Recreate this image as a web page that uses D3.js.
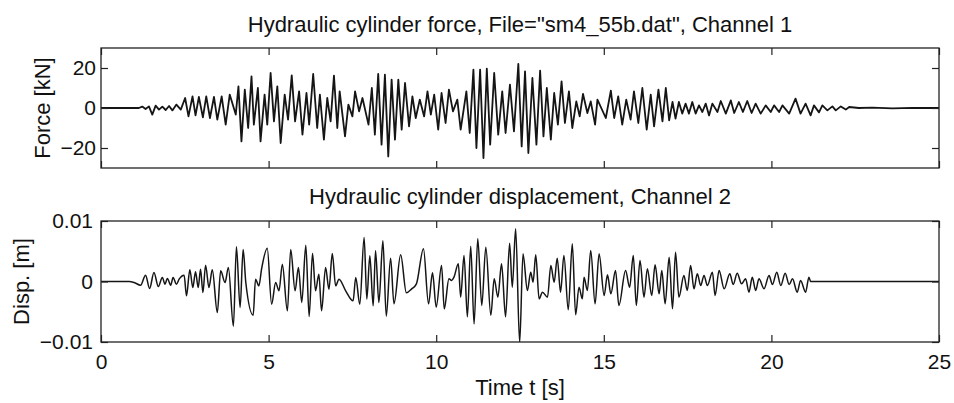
<!DOCTYPE html>
<html><head><meta charset="utf-8">
<script src="https://cdn.jsdelivr.net/npm/d3@7"></script>
<style>
body{margin:0;background:#fff}
svg{display:block}
text{font-family:"Liberation Sans",Arial,Helvetica,sans-serif;fill:#111}
</style>
</head><body><svg id="chart" width="954" height="403"></svg>
<script>
// ---- tick labels / titles ----
const xTicks = [0, 5, 10, 15, 20, 25];
const forceTicks = [-20, 0, 20];
const dispTicks = [-0.01, 0, 0.01];
const forceTitle = 'Hydraulic cylinder force, File="sm4_55b.dat", Channel 1';
const dispTitle = 'Hydraulic cylinder displacement, Channel 2';
const forceLabel = 'Force [kN]';
const dispLabel = 'Disp. [m]';
const timeLabel = 'Time t [s]';

// ---- series: [time s, force kN] (peaks/troughs) ----
const forceSeries = [[0,0],[1.13,0],[1.23,0.7],[1.33,-0.5],[1.43,0.8],[1.53,-3.3],[1.63,1.2],[1.73,-0.8],[1.83,0.7],[1.93,-1.0],[2.03,1.0],[2.13,-1.2],[2.25,1.7],[2.38,-0.8],[2.51,5.0],[2.61,-4.2],[2.73,5.8],[2.82,-3.7],[2.92,5.5],[3.04,-4.7],[3.14,5.8],[3.25,-5.0],[3.37,5.5],[3.47,-5.8],[3.60,5.8],[3.72,-8.3],[3.84,6.7],[4.02,-3.3],[4.10,10.8],[4.19,-16.7],[4.29,9.2],[4.39,-10],[4.49,15.8],[4.56,-8.3],[4.68,10],[4.76,-16.7],[4.88,6.7],[4.96,-8.3],[5.06,17.5],[5.16,-6.7],[5.26,10.8],[5.36,-17.5],[5.48,6.7],[5.58,-5.8],[5.69,16.3],[5.79,-6.7],[5.91,8.3],[6.01,-13.3],[6.13,7.5],[6.21,-8.3],[6.33,17],[6.45,-10],[6.53,6.7],[6.65,-15.8],[6.75,5],[6.85,-6.7],[6.95,16.2],[7.05,-10],[7.12,8.3],[7.28,-14.2],[7.38,1.7],[7.50,-4.2],[7.58,8.3],[7.70,-1.7],[7.80,5],[7.98,-8.3],[8.08,10],[8.17,-13.3],[8.27,17],[8.37,-18.3],[8.47,16.7],[8.57,-24.2],[8.67,14.2],[8.77,-15.8],[8.87,14.2],[8.97,-10.8],[9.07,12.5],[9.19,-9.2],[9.29,5.8],[9.39,-5],[9.51,4.2],[9.64,-4.2],[9.74,8.3],[9.84,-3.3],[9.94,6.7],[10.06,-10.8],[10.16,7.5],[10.28,-7.5],[10.38,9.2],[10.50,-1.7],[10.63,4.2],[10.73,-10.8],[10.90,8.3],[11.00,-12.5],[11.11,19.2],[11.20,-20],[11.31,19.2],[11.41,-25],[11.51,19.7],[11.61,-18.3],[11.73,17.5],[11.85,-13.3],[11.97,8.3],[12.07,-12.5],[12.20,11.7],[12.32,-11.7],[12.45,22],[12.55,-19.2],[12.65,18.3],[12.75,-22.5],[12.87,15],[12.99,-18.3],[13.10,18.7],[13.20,-14.2],[13.30,10],[13.42,-15.8],[13.52,7.5],[13.63,-8.3],[13.74,13.3],[13.84,-7.5],[13.96,8.3],[14.06,-10],[14.18,3.3],[14.28,-4.2],[14.38,7],[14.51,-2.5],[14.61,3.3],[14.74,-8.3],[14.81,4.2],[15.06,-5],[15.21,8.7],[15.31,-5],[15.43,5.8],[15.55,-8.3],[15.67,4.2],[15.80,-5.8],[15.90,8.3],[16.03,-7.5],[16.15,10],[16.28,-10.8],[16.40,6.7],[16.50,-9.2],[16.63,9.2],[16.75,-6.7],[16.85,10],[16.95,-6.2],[17.05,3],[17.14,-5.3],[17.24,3],[17.34,-2.8],[17.44,2.2],[17.54,-2.8],[17.64,3],[17.74,-2.8],[17.84,1.3],[17.94,-2],[18.04,2.2],[18.14,-3.7],[18.24,2.2],[18.39,-2],[18.49,3.5],[18.64,-2.8],[18.79,3.8],[18.89,-2.5],[19.03,3],[19.15,-2],[19.28,3.5],[19.41,-2.5],[19.53,2.2],[19.68,-2.8],[19.83,1.3],[19.98,-2],[20.08,1.3],[20.23,-2],[20.33,1.3],[20.53,-2.8],[20.72,4.7],[20.87,-2.8],[21.02,2.2],[21.17,-3.7],[21.27,1.3],[21.42,-2.2],[21.52,1.3],[21.67,-1.2],[21.82,0.8],[21.92,-1.2],[22.07,0.8],[22.22,-0.8],[22.32,0.5],[22.61,0],[23.01,0.2],[23.61,-0.2],[24.21,0.1],[25,0]];

// ---- series: [time s, displacement m] ----
const dispSeries = [[0,0],[0.84,0],[0.99,-0.00017],[1.18,-0.00061],[1.33,0.00105],[1.45,-0.00116],[1.58,0.00149],[1.71,-0.00083],[1.83,0.00066],[1.91,-0.00044],[1.98,0.0005],[2.08,-0.00061],[2.15,0.00066],[2.25,-0.00044],[2.33,0.00039],[2.48,0.00105],[2.55,-0.00237],[2.65,0.00193],[2.74,-0.00099],[2.82,0.0016],[2.90,-0.00099],[2.97,0.00204],[3.04,-0.00182],[3.12,0.0027],[3.22,-0.00099],[3.32,0.00193],[3.47,-0.00512],[3.57,0.00176],[3.70,-0.00017],[3.80,0.00231],[3.95,-0.00738],[4.04,0.00573],[4.15,-0.0043],[4.24,0.00529],[4.32,-0.00017],[4.54,-0.00557],[4.61,0.00039],[4.71,-0.00072],[4.79,0.00204],[4.96,0.00551],[5.09,-0.00375],[5.21,-0.00017],[5.31,-0.00154],[5.41,0.00287],[5.56,-0.00485],[5.66,0.00529],[5.79,-0.00154],[5.89,0.00231],[5.99,-0.00346],[6.11,0.006],[6.21,-0.00579],[6.31,0.00468],[6.40,-0.00154],[6.50,0.00121],[6.58,-0.00485],[6.70,0.00231],[6.80,-0.00127],[6.90,0.00463],[7.00,-0.00072],[7.10,0.00039],[7.30,-0.00154],[7.52,-0.0032],[7.60,0.00066],[7.72,-0.00375],[7.85,0.00727],[7.93,-0.00292],[8.02,0.00424],[8.12,-0.00402],[8.19,0.00507],[8.29,-0.00347],[8.41,0.00672],[8.51,-0.00573],[8.64,0.00386],[8.74,-0.00369],[8.94,0.00441],[9.11,-0.00187],[9.27,-0.00121],[9.41,-0.00039],[9.62,0.0054],[9.77,-0.00369],[9.89,0.00143],[10.00,-0.00424],[10.16,0.00265],[10.24,-0.00452],[10.38,0.00044],[10.46,0.00017],[10.53,0.00072],[10.66,0.00292],[10.73,-0.00259],[10.83,0.0043],[10.93,-0.00584],[11.03,0.00584],[11.13,-0.00703],[11.24,0.00705],[11.36,-0.00397],[11.48,0.00568],[11.63,-0.00557],[11.73,0.00044],[11.84,-0.00259],[11.95,0.00292],[12.07,-0.00584],[12.19,0.00634],[12.27,-0.00094],[12.37,0.0087],[12.49,-0.0101],[12.59,0.00457],[12.72,-0.00149],[12.82,0.00154],[12.89,-0.00011],[12.97,0.00441],[13.07,-0.00287],[13.17,-0.00176],[13.32,-0.00259],[13.42,0.00265],[13.52,-0.00011],[13.61,0.00386],[13.71,-0.00176],[13.81,0.0043],[13.94,-0.00468],[14.06,0.00623],[14.16,-0.00551],[14.26,-0.00094],[14.36,-0.00287],[14.41,0.00072],[14.51,-0.00149],[14.61,0.00512],[14.74,-0.00369],[14.86,0.00457],[15.01,-0.00231],[15.11,0.0011],[15.21,-0.00204],[15.35,0.00182],[15.45,-0.00397],[15.65,0.00182],[15.77,-0.00094],[15.88,0.0043],[15.97,-0.00397],[16.08,0.00347],[16.20,-0.00259],[16.30,0.00209],[16.43,-0.00231],[16.53,0.00276],[16.65,-0.00204],[16.73,0.00182],[16.83,-0.00369],[16.95,0.00402],[17.05,-0.00452],[17.14,0.00485],[17.24,-0.00259],[17.39,0.00099],[17.49,-0.00149],[17.59,0.00265],[17.69,-0.00121],[17.79,0.00127],[17.89,-0.00066],[17.99,0.00099],[18.09,-0.00066],[18.24,0.00154],[18.32,-0.00231],[18.44,0.00182],[18.59,-0.00121],[18.76,0.00127],[18.86,-0.0005],[18.98,0.00138],[19.11,-0.00039],[19.23,0.00044],[19.33,-0.00176],[19.43,0.00072],[19.53,-0.00149],[19.63,0.00044],[19.78,-0.00121],[19.93,0.00099],[20.03,-0.0005],[20.16,0.00154],[20.28,-0.00066],[20.41,0.00138],[20.53,-0.0005],[20.63,0.00044],[20.77,-0.00176],[20.87,0.00017],[21.02,-0.00176],[21.12,0.00072],[21.17,0],[25,0]];

// ---- drawing ----
const svg = d3.select("#chart");
svg.append("rect").attr("width", 954).attr("height", 403).attr("fill", "#fff");
const left = 101, right = 939;
const x = d3.scaleLinear().domain([0, 25]).range([left, right]);
const fmtTick = d3.format(".2f");

const panels = [
  {id: "f", top: 48, bottom: 168, domain: [-30, 30], ticks: forceTicks,
   fmt: d => String(d).replace("-", "\u2212"), data: forceSeries, title: forceTitle, titleY: 32,
   ylabel: forceLabel, ylabelX: 50, curve: d3.curveLinear, sw: 1.8, pad: 5, xlabels: false},
  {id: "d", top: 221, bottom: 342, domain: [-0.01, 0.01], ticks: dispTicks,
   fmt: d => d === 0 ? "0" : fmtTick(d), data: dispSeries, title: dispTitle, titleY: 204,
   ylabel: dispLabel, ylabelX: 29, curve: d3.curveMonotoneX, sw: 1.5, pad: 8, xlabels: true}
];

panels.forEach(p => {
  const y = d3.scaleLinear().domain(p.domain).range([p.bottom, p.top]);
  const g = svg.append("g");

  g.append("clipPath").attr("id", "clip-" + p.id)
    .append("rect").attr("x", left).attr("y", p.top)
    .attr("width", right - left).attr("height", p.bottom - p.top);

  const line = d3.line().x(d => x(d[0])).y(d => y(d[1])).curve(p.curve);
  g.append("path").datum(p.data)
    .attr("clip-path", "url(#clip-" + p.id + ")")
    .attr("d", line).attr("fill", "none")
    .attr("stroke", "#151515").attr("stroke-width", p.sw)
    .attr("stroke-linejoin", "round");

  // axes (ticks pointing inward)
  const axB = g.append("g").attr("transform", `translate(0,${p.bottom})`)
    .call(d3.axisBottom(x).tickValues(xTicks).tickSizeInner(-7).tickSizeOuter(0).tickPadding(12)
      .tickFormat(p.xlabels ? d3.format("d") : () => ""));
  const axT = g.append("g").attr("transform", `translate(0,${p.top})`)
    .call(d3.axisTop(x).tickValues(xTicks).tickSizeInner(-7).tickSizeOuter(0).tickFormat(() => ""));
  const axL = g.append("g").attr("transform", `translate(${left},0)`)
    .call(d3.axisLeft(y).tickValues(p.ticks).tickSizeInner(-7).tickSizeOuter(0).tickPadding(p.pad)
      .tickFormat(p.fmt));
  const axR = g.append("g").attr("transform", `translate(${right},0)`)
    .call(d3.axisRight(y).tickValues(p.ticks).tickSizeInner(-7).tickSizeOuter(0).tickFormat(() => ""));
  [axB, axT, axL, axR].forEach(a => {
    a.select(".domain").remove();
    a.selectAll(".tick line").attr("stroke", "#222").attr("stroke-width", 1.2);
    a.attr("font-family", null).attr("font-size", null);
    a.selectAll("text").attr("font-size", 21).attr("fill", "#111");
  });

  // frame
  g.append("rect").attr("x", left).attr("y", p.top)
    .attr("width", right - left).attr("height", p.bottom - p.top)
    .attr("fill", "none").attr("stroke", "#222").attr("stroke-width", 1.3);

  // title
  g.append("text").attr("x", (left + right) / 2).attr("y", p.titleY)
    .attr("text-anchor", "middle").attr("font-size", 22).text(p.title);

  // y label
  g.append("text")
    .attr("transform", `translate(${p.ylabelX},${(p.top + p.bottom) / 2}) rotate(-90)`)
    .attr("text-anchor", "middle").attr("font-size", 22).text(p.ylabel);
});

svg.append("text").attr("x", (left + right) / 2).attr("y", 395)
  .attr("text-anchor", "middle").attr("font-size", 22).text(timeLabel);
</script>
</body></html>
